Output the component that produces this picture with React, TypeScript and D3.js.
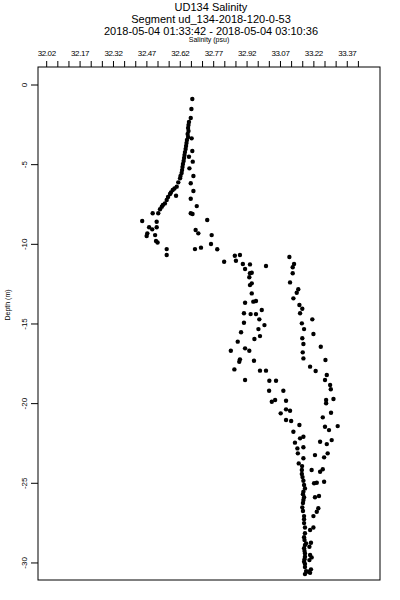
import React from "react";
import * as d3 from "d3";

// salinity (psu) and depth (m), in pairs
const salinity: number[] = [
  32.674, 32.670, 32.667, 32.659, 32.657, 32.655, 32.657, 32.653, 32.655, 32.650,
  32.648, 32.646, 32.644, 32.641, 32.639, 32.637, 32.635, 32.632, 32.630, 32.628,
  32.626, 32.621, 32.619, 32.611, 32.604, 32.594, 32.586, 32.578, 32.574, 32.565,
  32.559, 32.551, 32.542, 32.537, 32.529, 32.521, 32.496, 32.514, 32.449, 32.480,
  32.494, 32.514, 32.472, 32.507, 32.469, 32.511, 32.518, 32.559, 32.559, 32.601,
  32.671, 32.674, 32.659, 32.676, 32.661, 32.679, 32.667, 32.679, 32.667, 32.694,
  32.667, 32.675, 32.741, 32.689, 32.701, 32.761, 32.758, 32.786, 32.686, 32.713,
  32.817, 32.865, 32.888, 32.870, 32.901, 32.933, 32.911, 33.005, 33.110, 32.933,
  32.941, 32.930, 33.131, 33.125, 33.125, 33.113, 32.941, 32.933, 33.150, 33.143,
  33.128, 32.941, 32.948, 32.960, 32.911, 33.155, 33.168, 32.986, 32.936, 32.960,
  32.906, 33.158, 32.975, 32.998, 32.906, 33.166, 33.213, 33.176, 32.971,
  33.218, 32.893, 32.953, 32.978, 32.878, 33.168, 33.173, 33.251, 32.847, 32.911,
  32.930, 33.170, 33.173, 32.888, 32.885, 32.951, 33.272, 32.863, 32.978, 33.005,
  33.203, 33.228, 33.278, 33.270, 32.911, 33.020, 33.050, 33.293, 33.296, 33.019,
  33.083, 33.308, 33.275, 33.275, 33.095, 33.031, 33.046, 33.071, 33.095, 33.113,
  33.297, 33.260,
  33.095, 33.118, 33.155, 33.128, 33.270, 33.288, 33.327, 33.173, 33.158, 33.135,
  33.248, 33.278, 33.300, 33.146, 33.173, 33.148, 33.173, 33.225, 33.282, 33.266,
  33.152, 33.166, 33.210, 33.248, 33.260, 33.166, 33.173, 33.221, 33.233, 33.266,
  33.180, 33.173, 33.225, 33.243, 33.176, 33.173, 33.168, 33.240, 33.233, 33.218,
  33.176, 33.176, 33.180, 33.218, 33.203, 33.180, 33.176, 33.185, 33.207, 33.200,
  33.176, 33.180, 33.203, 33.210, 33.180, 33.176, 33.200, 33.180, 33.207, 33.195,
  33.180, 33.203,
  33.167, 33.169, 33.176, 33.171, 33.171, 33.171, 33.176, 33.178, 33.180, 33.178,
  33.178, 33.180, 33.185,
];

const depth: number[] = [
  -0.88, -1.51, -2.07, -2.32, -2.51, -2.70, -2.89, -3.08, -3.26, -3.45,
  -3.64, -3.83, -4.02, -4.21, -4.39, -4.58, -4.77, -4.96, -5.15, -5.34,
  -5.52, -5.71, -5.86, -6.11, -6.38, -6.50, -6.59, -6.75, -6.84, -7.03,
  -7.22, -7.43, -7.53, -7.64, -7.80, -8.05, -8.05, -8.58, -8.54, -8.93,
  -9.06, -8.93, -9.31, -9.42, -9.48, -9.79, -9.89, -10.30, -10.67, -6.95,
  -3.35, -4.14, -4.50, -4.81, -5.23, -5.71, -6.17, -6.65, -7.14, -7.60,
  -8.05, -8.10, -8.47, -9.10, -9.31, -9.42, -9.98, -10.31, -10.30, -10.21,
  -11.09, -10.72, -10.67, -11.03, -11.24, -11.26, -11.55, -11.36, -10.80, -11.82,
  -11.78, -12.07, -11.24, -11.44, -11.82, -12.39, -12.45, -12.56, -12.82, -13.04,
  -13.39, -13.08, -13.60, -13.56, -13.67, -13.81, -14.04, -14.12, -14.38, -14.38,
  -14.33, -14.33, -14.71, -15.07, -14.92, -14.96, -14.71, -15.32, -15.32,
  -15.63, -15.52, -15.94, -15.76, -16.11, -15.90, -16.26, -16.43, -16.68, -16.53,
  -16.68, -16.78, -17.16, -17.22, -17.37, -17.31, -17.26, -17.85, -17.93, -17.93,
  -17.68, -17.95, -18.20, -18.52, -18.52, -18.56, -18.56, -18.83, -19.10, -19.19,
  -19.19, -19.71, -19.77, -19.98, -19.82, -19.88, -19.77, -20.61, -20.36, -20.45,
  -20.57, -20.86,
  -21.03, -21.09, -21.34, -21.76, -21.45, -21.66, -21.41, -22.08, -22.18, -22.45,
  -22.39, -22.54, -22.29, -22.81, -22.74, -23.12, -23.43, -23.23, -23.12, -23.37,
  -23.75, -24.17, -24.17, -24.28, -24.12, -24.42, -24.84, -25.00, -24.97, -24.90,
  -25.32, -25.53, -25.88, -25.80, -25.88, -26.05, -26.51, -26.57, -26.79, -27.06,
  -27.06, -27.26, -27.77, -27.77, -27.93, -28.14, -28.39, -28.77, -28.73, -28.98,
  -29.08, -29.40, -29.50, -29.65, -29.61, -29.92, -29.82, -30.07, -30.40, -30.55,
  -30.70, -30.62,
  -23.92, -24.61, -25.11, -25.68, -26.24, -26.74, -27.50, -28.56, -28.88, -29.25,
  -29.76, -30.26, -30.51,
];

const titleLines = [
  "UD134 Salinity",
  "Segment ud_134-2018-120-0-53",
  "2018-05-04 01:33:42 - 2018-05-04 03:10:36",
];
const xTicks = d3.range(0, 29).map((i) => +(32.02 + i * 0.05).toFixed(2));
const yTicks = [0, -5, -10, -15, -20, -25, -30];

const W = 400;
const H = 600;
const box = { left: 38, right: 380, top: 67, bottom: 580 };
const font = "'Liberation Sans', Arial, sans-serif";

export default function App() {
  const x = d3.scaleLinear().domain([31.981, 33.517]).range([box.left, box.right]);
  const y = d3.scaleLinear().domain([1.13, -31.07]).range([box.top, box.bottom]);
  const pts = salinity.map((s, i) => ({ s, d: depth[i] }));
  const cx = (box.left + box.right) / 2;

  return (
    <svg width={W} height={H} style={{ position: "absolute", left: 0, top: 0, background: "#fff" }}>
      <rect width={W} height={H} fill="#fff" />
      {titleLines.map((t, i) => (
        <text key={t} x={cx + 2} y={11 + i * 12} textAnchor="middle" fontFamily={font} fontSize={11} fill="#000">
          {t}
        </text>
      ))}
      <text x={cx} y={42} textAnchor="middle" fontFamily={font} fontSize={7} fill="#000">
        Salinity (psu)
      </text>

      {/* top axis */}
      {xTicks.map((v, i) => (
        <g key={v}>
          <line x1={x(v)} x2={x(v)} y1={box.top - 6} y2={box.top} stroke="#000" strokeWidth={1} />
          {i % 3 === 0 && (
            <text x={x(v)} y={56} textAnchor="middle" fontFamily={font} fontSize={8} letterSpacing={-0.4} fill="#000">
              {v.toFixed(2)}
            </text>
          )}
        </g>
      ))}

      {/* left axis */}
      {yTicks.map((v) => (
        <g key={v}>
          <line x1={box.left - 7} x2={box.left} y1={y(v)} y2={y(v)} stroke="#000" strokeWidth={1} />
          <text
            transform={`translate(27,${y(v)}) rotate(-90)`}
            textAnchor="middle"
            fontFamily={font}
            fontSize={8}
            fill="#000"
          >
            {v}
          </text>
        </g>
      ))}
      <text transform={`translate(10,305) rotate(-90)`} textAnchor="middle" fontFamily={font} fontSize={7} fill="#000">
        Depth (m)
      </text>

      <rect
        x={box.left}
        y={box.top}
        width={box.right - box.left}
        height={box.bottom - box.top}
        fill="none"
        stroke="#000"
        strokeWidth={1}
      />

      {pts.map((p, i) => (
        <circle key={i} cx={x(p.s)} cy={y(p.d)} r={2.2} fill="#000" />
      ))}
    </svg>
  );
}
